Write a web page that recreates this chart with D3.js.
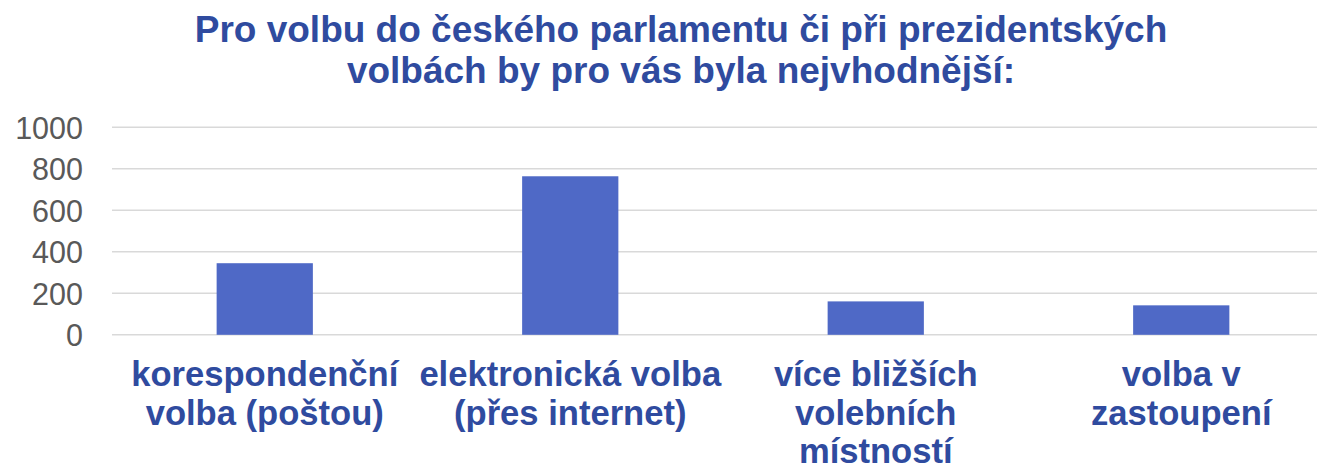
<!DOCTYPE html>
<html>
<head>
<meta charset="utf-8">
<script src="https://cdn.jsdelivr.net/npm/d3@7"></script>
<style>
  html, body { margin: 0; padding: 0; background: #fff; overflow: hidden; }
  svg { display: block; }
</style>
</head>
<body>
<svg id="chart" width="1317" height="468"></svg>
<script>
const titleLines = ["Pro volbu do českého parlamentu či při prezidentských", "volbách by pro vás byla nejvhodnější:"];
const categories = ["korespondenční\nvolba (poštou)", "elektronická volba\n(přes internet)", "více bližších\nvolebních\nmístností", "volba v\nzastoupení"];
const values = [345, 764, 161, 142];
const yTicks = [0, 200, 400, 600, 800, 1000];

const W = 1317, H = 468;
const svg = d3.select("#chart");
const font = "'Liberation Sans', Arial, sans-serif";
const textBlue = "#2f4b9f";

const x = d3.scaleBand().domain(categories).range([112, 1334]).padding(0);
const y = d3.scaleLinear().domain([0, 1000]).range([334.8, 127.3]);
const barW = x.bandwidth() * 0.315;

// gridlines
svg.append("g").selectAll("line").data(yTicks).join("line")
  .attr("x1", 112).attr("x2", W)
  .attr("y1", d => y(d)).attr("y2", d => y(d))
  .attr("stroke", "#d9d9d9").attr("stroke-width", 1.6);

// y axis labels
const yAxis = d3.axisLeft(y).tickValues(yTicks).tickSize(0).tickPadding(0).tickFormat(d3.format("d"));
const gy = svg.append("g").attr("transform", "translate(83,0)").call(yAxis);
gy.select(".domain").remove();
gy.selectAll("text")
  .attr("font-family", font).attr("font-size", "30.5px").attr("fill", "#595959")
  .attr("dy", "0.36em");

// bars
svg.append("g").selectAll("rect").data(values).join("rect")
  .attr("x", (d, i) => x(categories[i]) + x.bandwidth() / 2 - barW / 2)
  .attr("width", barW)
  .attr("y", d => y(d))
  .attr("height", d => y(0) - y(d))
  .attr("fill", "#4f69c6");

// category labels
const cg = svg.append("g");
categories.forEach(c => {
  const t = cg.append("text")
    .attr("x", x(c) + x.bandwidth() / 2)
    .attr("y", 386)
    .attr("text-anchor", "middle")
    .attr("font-family", font).attr("font-weight", "bold")
    .attr("font-size", "34.6px").attr("fill", textBlue);
  c.split("\n").forEach((ln, i) => {
    t.append("tspan").attr("x", x(c) + x.bandwidth() / 2).attr("y", 386 + i * 38.7).text(ln);
  });
});

// title
const tt = svg.append("text")
  .attr("text-anchor", "middle")
  .attr("font-family", font).attr("font-weight", "bold")
  .attr("font-size", "37px").attr("fill", textBlue);
titleLines.forEach((ln, i) => {
  tt.append("tspan").attr("x", 681).attr("y", 41.7 + i * 41.6).text(ln);
});
</script>
</body>
</html>
